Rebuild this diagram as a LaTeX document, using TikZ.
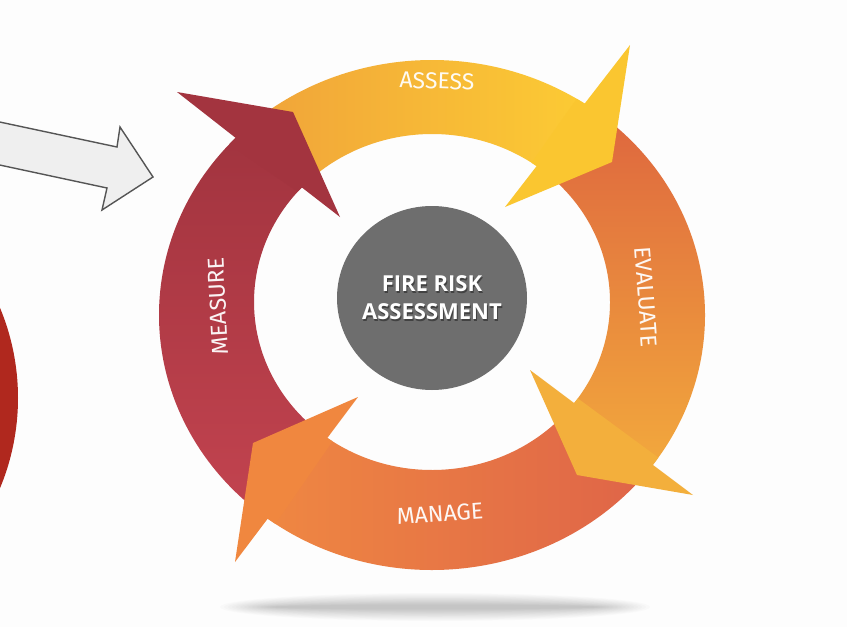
\documentclass[tikz,border=0pt]{standalone}
\usepackage{fontspec}
\setmainfont{Open Sans}
\newfontfamily\lblfont{Fira Sans}
\usetikzlibrary{calc,shapes.geometric}
\definecolor{bgc}{HTML}{FDFDFD}
\definecolor{measTop}{HTML}{A2343F}
\definecolor{measBot}{HTML}{C2434F}
\definecolor{measHead}{HTML}{A3343F}
\definecolor{assL}{HTML}{F0A33A}
\definecolor{assR}{HTML}{FCCB34}
\definecolor{assHead}{HTML}{FAC630}
\definecolor{evTop}{HTML}{DE663E}
\definecolor{evBot}{HTML}{F2A83D}
\definecolor{evHead}{HTML}{F3AF3C}
\definecolor{manL}{HTML}{EF8742}
\definecolor{manR}{HTML}{DF6548}
\definecolor{manHead}{HTML}{F0873F}
\definecolor{coreGray}{HTML}{6E6E6E}
\definecolor{arrFill}{HTML}{EFEFEF}
\definecolor{arrLine}{HTML}{555555}
\definecolor{blobRed}{HTML}{B0281E}
\tikzset{
  lbl/.style={text=white, text opacity=0.94, font=\lblfont\fontsize{23}{25}\selectfont, inner sep=0pt},
  ctrtxt/.style={text=white, font=\fontsize{22}{28}\selectfont\bfseries, align=center, inner sep=0pt},
  ctrshadow/.style={text=black, text opacity=0.4, font=\fontsize{22}{28}\selectfont\bfseries, align=center, inner sep=0pt},
  hintarrow/.style={fill=arrFill, draw=arrLine, line width=1.4pt, line join=miter},
}
\begin{document}
\begin{tikzpicture}[x=1pt,y=-1pt]
\useasboundingbox (0,0) rectangle (847,627);
\fill[bgc] (0,0) rectangle (847,627);
\coordinate (oc) at (432,315);
\coordinate (ic) at (432,302);

% ground shadow
\foreach \i in {0,...,13}{
  \fill[black, opacity=0.016] (435,607) ellipse[x radius={215-4*\i}, y radius={14-0.9*\i}];
}

% bodies
\shade[top color=measTop, bottom color=measBot]
  ($(oc)+(130:273 and 255)$) arc[start angle=130,end angle=224,x radius=273,y radius=255]
  -- ($(ic)+(223:178 and 168)$) arc[start angle=223,end angle=130,x radius=178,y radius=168] -- cycle;
\shade[left color=assL, right color=assR]
  ($(oc)+(228:273 and 255)$) arc[start angle=228,end angle=304,x radius=273,y radius=255]
  -- ($(ic)+(306:178 and 168)$) arc[start angle=306,end angle=228,x radius=178,y radius=168] -- cycle;
\shade[top color=evTop, bottom color=evBot]
  ($(oc)+(307:273 and 255)$) arc[start angle=307,end angle=396,x radius=273,y radius=255]
  -- ($(ic)+(397:178 and 168)$) arc[start angle=397,end angle=307,x radius=178,y radius=168] -- cycle;
\shade[left color=manL, right color=manR]
  ($(oc)+(40:273 and 255)$) arc[start angle=40,end angle=127,x radius=273,y radius=255]
  -- ($(ic)+(126:178 and 168)$) arc[start angle=126,end angle=40,x radius=178,y radius=168] -- cycle;

% heads
\fill[measHead] ($(oc)+(222:273 and 255)$) -- ($(oc)+(224:273 and 255)$) -- (177,92) -- (293,112) -- (340,217)
  -- ($(ic)+(223:178 and 168)$) -- ($(ic)+(221:178 and 168)$) -- cycle;
\fill[assHead] ($(oc)+(302:273 and 255)$) -- ($(oc)+(304:273 and 255)$) -- (630,45) -- (612,162) -- (505,207)
  -- ($(ic)+(306:178 and 168)$) -- ($(ic)+(304:178 and 168)$) -- cycle;
\fill[evHead] ($(oc)+(34:273 and 255)$) -- ($(oc)+(36:273 and 255)$) -- (693,495) -- (577,475) -- (530,370)
  -- ($(ic)+(37:178 and 168)$) -- ($(ic)+(35:178 and 168)$) -- cycle;
\fill[manHead] ($(oc)+(125:273 and 255)$) -- ($(oc)+(127:273 and 255)$) -- (235,562) -- (253,443) -- (358,397)
  -- ($(ic)+(126:178 and 168)$) -- ($(ic)+(124:178 and 168)$) -- cycle;

% band labels
\node[lbl, rotate=-2] (tAssess) at (437,81) {ASSESS};
\node[lbl, rotate=-86] (tEval) at (646,297) {EVALUATE};
\node[lbl, rotate=4] (tManage) at (440,514) {MANAGE};
\node[lbl, rotate=93] (tMeasure) at (218,306) {MEASURE};

% centre
\node[ellipse, fill=coreGray, minimum width=190pt, minimum height=184pt, inner sep=0pt] (core) at (432,298) {};
\node[ctrshadow] (coreShadow) at ($(core)+(1,1.2)$) {FIRE RISK\\ASSESSMENT};
\node[ctrtxt] (coreText) at (core) {FIRE RISK\\ASSESSMENT};

% pointing arrow
\draw[hintarrow] (-5,121) -- (117,147) -- (120,127) -- (153,177) -- (102,210) -- (107,188) -- (-5,164);

% red blob at the left edge
\fill[blobRed] (-216,398) circle[radius=234];
\end{tikzpicture}
\end{document}
